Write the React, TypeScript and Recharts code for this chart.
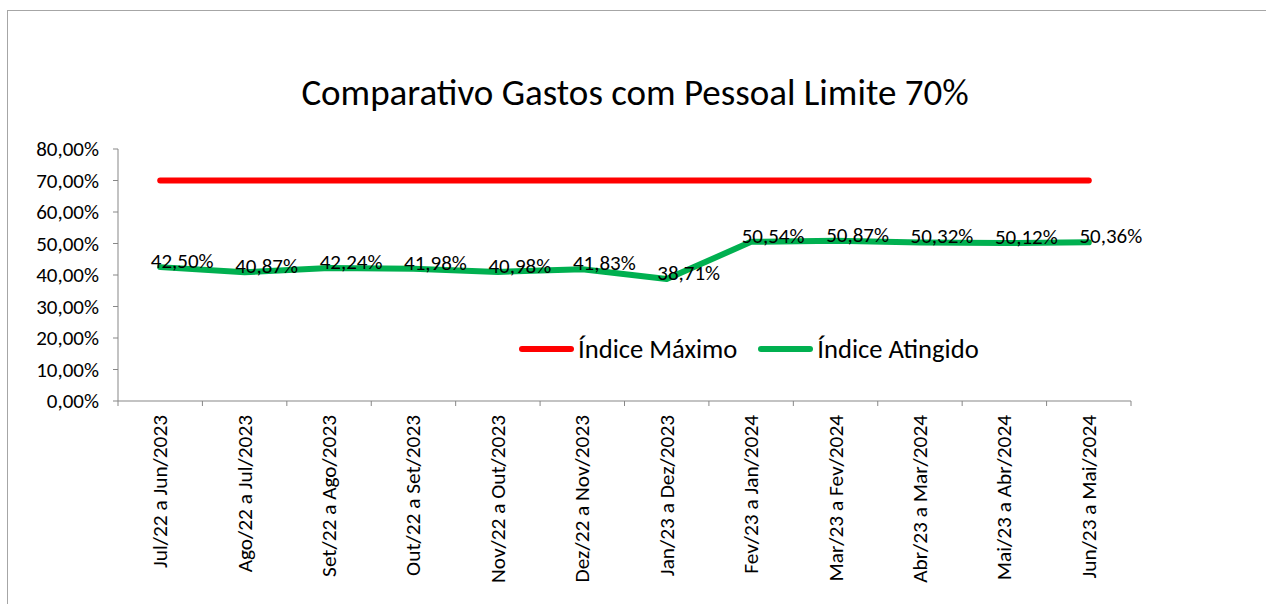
import { LineChart, Line, XAxis, YAxis, Legend } from 'recharts'

const periodos = [
  'Jul/22 a Jun/2023',
  'Ago/22 a Jul/2023',
  'Set/22 a Ago/2023',
  'Out/22 a Set/2023',
  'Nov/22 a Out/2023',
  'Dez/22 a Nov/2023',
  'Jan/23 a Dez/2023',
  'Fev/23 a Jan/2024',
  'Mar/23 a Fev/2024',
  'Abr/23 a Mar/2024',
  'Mai/23 a Abr/2024',
  'Jun/23 a Mai/2024',
]
const indiceMaximo = [70, 70, 70, 70, 70, 70, 70, 70, 70, 70, 70, 70]
const indiceAtingido = [42.5, 40.87, 42.24, 41.98, 40.98, 41.83, 38.71, 50.54, 50.87, 50.32, 50.12, 50.36]
const yTicks = [0, 10, 20, 30, 40, 50, 60, 70, 80]
const legendOrder = ['maximo', 'atingido']

const FONT = 'Carlito, Calibri, Lato, sans-serif'
const W = 1266
const H = 604
const MARGIN = { top: 149, right: 135, left: 0, bottom: 0 }
const Y_AXIS_W = 118
const X_AXIS_H = 203
const AXIS_COLOR = '#878787'
const RED = '#ff0000'
const GREEN = '#00b050'

const band = (W - MARGIN.left - MARGIN.right - Y_AXIS_W) / periodos.length

const data = periodos.map((p, i) => ({
  periodo: p,
  maximo: indiceMaximo[i],
  atingido: indiceAtingido[i],
}))

const pct = (v: number) => v.toFixed(2).replace('.', ',') + '%'

function XTick(props: any) {
  const { x, y, payload, index } = props
  const axisY = y - 14
  return (
    <g>
      <line x1={x - band / 2} x2={x - band / 2} y1={axisY} y2={axisY + 5} stroke={AXIS_COLOR} />
      {index === periodos.length - 1 && (
        <line x1={x + band / 2} x2={x + band / 2} y1={axisY} y2={axisY + 5} stroke={AXIS_COLOR} />
      )}
      <text
        x={x}
        y={y}
        transform={`rotate(-90 ${x} ${y})`}
        textAnchor="end"
        dominantBaseline="central"
        fontSize={21.3}
        fontFamily={FONT}
        fill="#000"
      >
        {payload.value}
      </text>
    </g>
  )
}

function PointLabel(props: any) {
  const { x, y, value } = props
  return (
    <text x={x + 22} y={y - 6} textAnchor="middle" dominantBaseline="central" fontSize={21} fontFamily={FONT} fill="#000">
      {pct(value)}
    </text>
  )
}

function LegendBox(props: any) {
  const items = [...props.payload].sort(
    (a: any, b: any) => legendOrder.indexOf(a.dataKey) - legendOrder.indexOf(b.dataKey)
  )
  return (
    <div style={{ display: 'flex', alignItems: 'center', fontFamily: FONT, fontSize: 26.6, color: '#000', whiteSpace: 'nowrap' }}>
      {items.map((item: any, i: number) => (
        <div key={i} style={{ display: 'flex', alignItems: 'center', marginRight: 21 }}>
          <div style={{ width: 55, height: 6, borderRadius: 3, background: item.color, marginRight: 4 }} />
          <span>{item.value}</span>
        </div>
      ))}
    </div>
  )
}

export default function App() {
  return (
    <div style={{ position: 'absolute', left: 0, top: 0, width: W, height: H, overflow: 'hidden', background: '#fff' }}>
      <div style={{ position: 'absolute', left: 7, top: 10, width: 1400, height: 800, border: '1px solid #a6a6a6' }} />
      <div
        style={{
          position: 'absolute',
          left: 0,
          width: W,
          top: 70,
          textAlign: 'center',
          fontFamily: FONT,
          fontSize: 37,
          color: '#000',
          paddingLeft: 2,
        }}
      >
        Comparativo Gastos com Pessoal Limite 70%
      </div>
      <div style={{ position: 'absolute', left: 0, top: 0 }}>
        <LineChart width={W} height={H} data={data} margin={MARGIN}>
          <XAxis
            dataKey="periodo"
            interval={0}
            height={X_AXIS_H}
            padding={{ left: band / 2, right: band / 2 }}
            tickLine={false}
            tickSize={5}
            tickMargin={9}
            axisLine={{ stroke: AXIS_COLOR }}
            tick={<XTick />}
          />
          <YAxis
            width={Y_AXIS_W}
            domain={[0, 80]}
            ticks={yTicks}
            tickFormatter={pct}
            tickSize={5}
            tickMargin={14}
            axisLine={{ stroke: AXIS_COLOR }}
            tickLine={{ stroke: AXIS_COLOR }}
            tick={{ fontSize: 21, fontFamily: FONT, fill: '#000' }}
          />
          <Legend
            layout="horizontal"
            verticalAlign="middle"
            align="center"
            content={<LegendBox />}
            wrapperStyle={{ top: 333, left: 519, width: 'auto' }}
          />
          <Line
            dataKey="maximo"
            name="Índice Máximo"
            stroke={RED}
            strokeWidth={6}
            strokeLinecap="round"
            dot={false}
            activeDot={false}
            isAnimationActive={false}
          />
          <Line
            dataKey="atingido"
            name="Índice Atingido"
            stroke={GREEN}
            strokeWidth={6}
            strokeLinecap="round"
            strokeLinejoin="round"
            dot={false}
            activeDot={false}
            label={<PointLabel />}
            isAnimationActive={false}
          />
        </LineChart>
      </div>
    </div>
  )
}
